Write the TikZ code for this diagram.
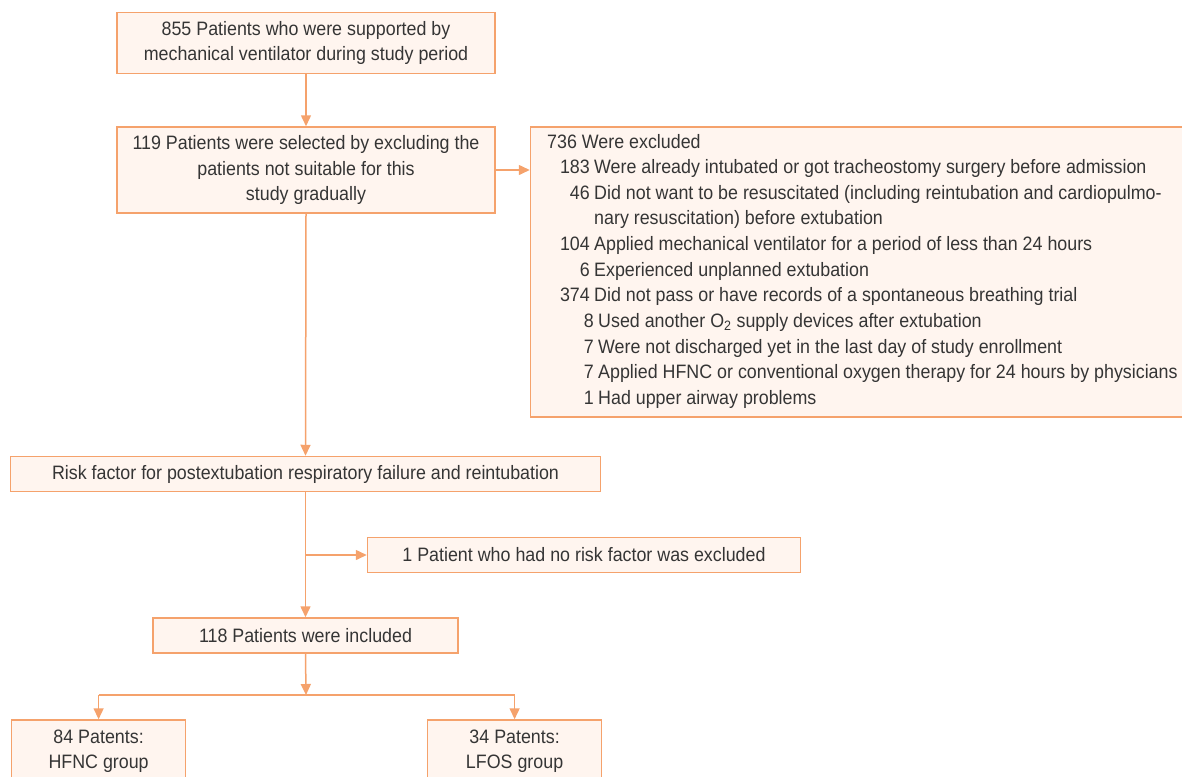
\documentclass[tikz,border=0pt]{standalone}
\usepackage{fontspec}
\setmainfont{Liberation Sans}[FakeStretch=0.92]
\usetikzlibrary{arrows.meta}
\definecolor{lineor}{HTML}{F5A26C}
\definecolor{fillor}{HTML}{FFF5EF}
\definecolor{txt}{HTML}{353535}
\tikzset{
  box/.style={draw=lineor, fill=fillor, line width=1.5pt, inner sep=0pt, align=center,
    text=txt, font=\fontsize{19.4}{25.5}\selectfont},
  conn/.style={draw=lineor, line width=1.5pt},
  arr/.style={conn, -{Triangle[length=11pt,width=10pt]}},
  lbl/.style={inner sep=0pt, text=txt, font=\fontsize{19.4}{25.5}\selectfont},
}
\begin{document}
\begin{tikzpicture}[x=1pt,y=-1pt]
\useasboundingbox (0,0) rectangle (1182,776);
\clip (0,0) rectangle (1182,776);
% boxes
\node[box, minimum width=378pt, minimum height=61pt] (b1) at (306,43)
  {855 Patients who were supported by\\mechanical ventilator during study period};
\node[box, minimum width=378pt, minimum height=86pt] (b2) at (306,170)
  {119 Patients were selected by excluding the\\patients not suitable for this\\study gradually};
\node[box, minimum width=656pt, minimum height=290pt] (b3) at (858.5,272) {};
\node[box, minimum width=590pt, minimum height=35pt] (b4) at (305.5,474)
  {Risk factor for postextubation respiratory failure and reintubation};
\node[box, minimum width=433pt, minimum height=35pt] (b5) at (584,555)
  {1 Patient who had no risk factor was excluded};
\node[box, minimum width=305pt, minimum height=35pt] (b6) at (305.5,635.5)
  {118 Patients were included};
\node[box, minimum width=174pt, minimum height=64pt] (b7) at (98.6,752) {};
\node[box, minimum width=174pt, minimum height=64pt] (b8) at (514.6,752) {};
\node[lbl, align=center] (t7) at (98.6,751) {84 Patents:\\HFNC group};
\node[lbl, align=center] (t8) at (514.6,751) {34 Patents:\\LFOS group};
% exclusion list
\node[lbl, anchor=mid west] (e0) at (547,146) {736 Were excluded};
\node[lbl, anchor=mid east] (n1) at (590,171) {183};
\node[lbl, anchor=mid west] (l1) at (594,171) {Were already intubated or got tracheostomy surgery before admission};
\node[lbl, anchor=mid east] (n2) at (590,197) {46};
\node[lbl, anchor=mid west] (l2) at (594,197) {Did not want to be resuscitated (including reintubation and cardiopulmo-};
\node[lbl, anchor=mid west] (l2b) at (594,222) {nary resuscitation) before extubation};
\node[lbl, anchor=mid east] (n3) at (590,248) {104};
\node[lbl, anchor=mid west] (l3) at (594,248) {Applied mechanical ventilator for a period of less than 24 hours};
\node[lbl, anchor=mid east] (n4) at (590,274) {6};
\node[lbl, anchor=mid west] (l4) at (594,274) {Experienced unplanned extubation};
\node[lbl, anchor=mid east] (n5) at (590,299) {374};
\node[lbl, anchor=mid west] (l5) at (594,299) {Did not pass or have records of a spontaneous breathing trial};
\node[lbl, anchor=mid east] (n6) at (594,325) {8};
\node[lbl, anchor=mid west] (l6) at (598,325) {Used another O\textsubscript{2} supply devices after extubation};
\node[lbl, anchor=mid east] (n7) at (594,351) {7};
\node[lbl, anchor=mid west] (l7) at (598,351) {Were not discharged yet in the last day of study enrollment};
\node[lbl, anchor=mid east] (n8) at (594,376) {7};
\node[lbl, anchor=mid west] (l8) at (598,376) {Applied HFNC or conventional oxygen therapy for 24 hours by physicians};
\node[lbl, anchor=mid east] (n9) at (594,402) {1};
\node[lbl, anchor=mid west] (l9) at (598,402) {Had upper airway problems};
% connectors
\coordinate (br) at (306,555);
\coordinate (sp) at (306,695);
\draw[arr] (b1.south) -- (b2.north);
\draw[arr] (b2.east) -- (b2.east -| b3.west);
\draw[arr] (b2.south) -- (b4.north);
\draw[arr] (b4.south) -- (b6.north);
\draw[arr] (br) -- (b5.west);
\draw[arr] (b6.south) -- (sp);
\draw[conn] (b7.north |- sp) -- (b8.north |- sp);
\draw[arr] (b7.north |- sp) -- (b7.north);
\draw[arr] (b8.north |- sp) -- (b8.north);
\end{tikzpicture}
\end{document}
